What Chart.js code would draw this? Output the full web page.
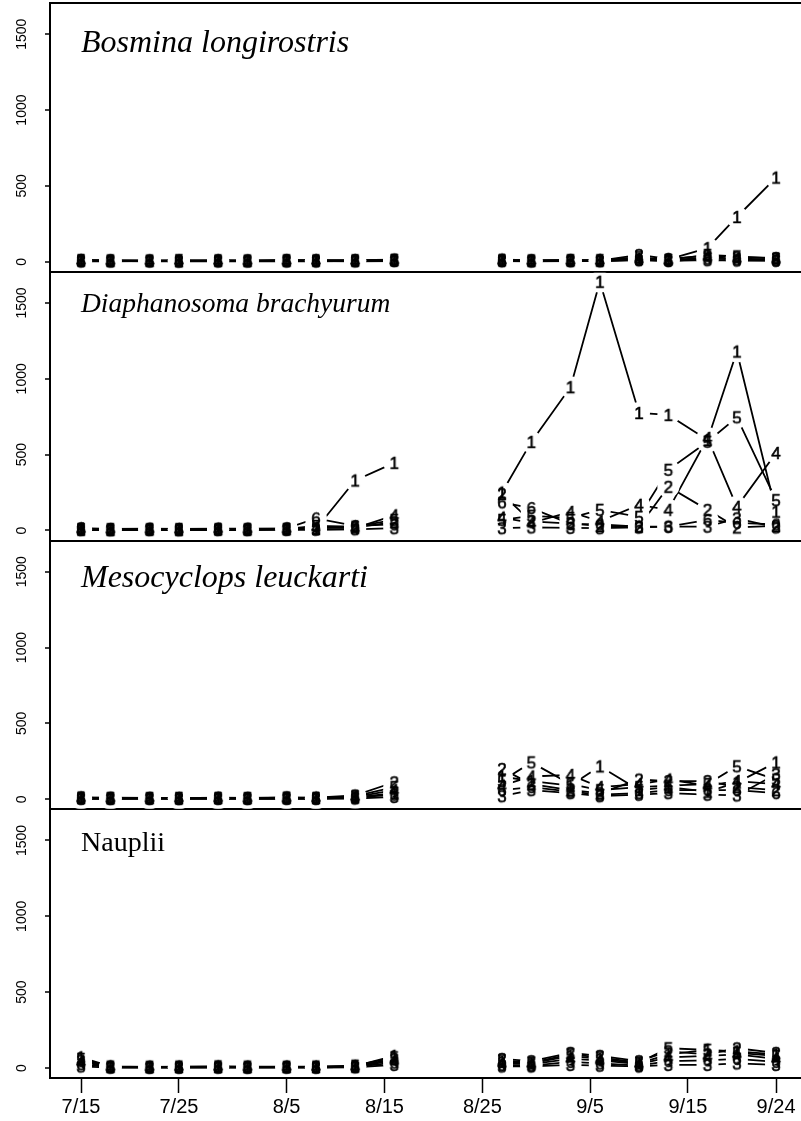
<!DOCTYPE html>
<html>
<head>
<meta charset="utf-8">
<title>Zooplankton abundance</title>
<script src="https://cdn.jsdelivr.net/npm/chart.js@4.4.1/dist/chart.umd.min.js"></script>
<style>
  html, body { margin: 0; padding: 0; background: #fff; }
  #wrap { width: 801px; height: 1121px; position: relative; }
</style>
</head>
<body>
<div id="wrap"><canvas id="chart" width="801" height="1121"></canvas></div>
<script>
// ---- data -------------------------------------------------------------
const sampleDates = ['7/15','7/18','7/22','7/25','7/29','8/1','8/5','8/8','8/12','8/16',
                     '8/27','8/30','9/3','9/6','9/10','9/13','9/17','9/20','9/24'];
const tickDates = ['7/15','7/25','8/5','8/15','8/25','9/5','9/15','9/24'];
const yTickValues = [0, 500, 1000, 1500];
const seriesLabels = ['1','2','3','4','5','6'];
const panelTitles = ['Bosmina longirostris', 'Diaphanosoma brachyurum', 'Mesocyclops leuckarti', 'Nauplii'];

// Bosmina longirostris, series 1-6
const bosmina1 = [8,5,6,4,7,5,6,9,8,10,   10,6,8,12,20,15,90,295,555];
const bosmina2 = [12,10,9,8,10,9,12,10,11,14, 14,10,12,8,45,18,40,30,25];
const bosmina3 = [3,2,4,2,3,2,3,4,3,5,   4,3,5,4,10,6,10,8,6];
const bosmina4 = [6,4,5,6,5,4,5,6,5,8,   7,5,6,6,15,8,30,20,15];
const bosmina5 = [10,8,7,10,8,7,9,8,9,12, 9,8,10,10,30,12,45,35,20];
const bosmina6 = [4,6,3,4,4,6,4,3,6,6,   5,4,4,5,12,5,20,15,10];

// Diaphanosoma brachyurum, series 1-6
const diaph1 = [5,4,6,5,7,6,8,10,330,446,   250,584,945,1640,775,762,597,1180,124];
const diaph2 = [12,8,10,8,10,10,12,15,20,55, 240,60,45,30,25,288,136,20,30];
const diaph3 = [3,2,3,2,3,3,4,5,8,15,       15,20,17,15,20,25,25,80,20];
const diaph4 = [8,6,7,6,8,7,9,20,15,100,    85,50,122,60,169,136,610,156,511];
const diaph5 = [10,9,8,9,9,8,10,30,25,70,   70,97,83,136,90,400,585,746,200];
const diaph6 = [15,10,12,10,12,12,14,80,30,40, 185,148,44,40,25,25,70,50,40];

// Mesocyclops leuckarti, series 1-6
const meso1 = [8,6,7,6,8,7,8,9,12,40,     150,120,90,217,60,80,50,110,243];
const meso2 = [12,10,9,8,10,9,12,10,25,112, 200,100,60,40,130,120,120,80,60];
const meso3 = [3,2,3,2,3,2,3,3,5,15,      20,60,40,20,30,40,30,25,165];
const meso4 = [6,5,6,5,6,5,6,6,15,60,     90,150,160,80,100,130,90,120,100];
const meso5 = [10,8,8,9,8,8,10,8,20,80,   120,243,100,60,80,90,100,217,130];
const meso6 = [5,4,4,4,5,4,5,5,10,30,     60,80,50,30,40,60,60,60,40];

// Nauplii, series 1-6
const naup1 = [70,10,8,8,9,8,9,8,12,80,   40,30,80,60,30,90,120,110,90];
const naup2 = [50,8,6,7,8,6,7,7,10,60,    60,45,100,80,45,110,90,130,100];
const naup3 = [10,3,2,3,3,2,3,3,5,20,     10,10,20,15,10,20,20,30,20];
const naup4 = [40,6,5,5,6,5,6,5,8,50,     30,25,60,50,25,70,80,90,60];
const naup5 = [60,9,8,9,10,9,8,9,15,70,   50,35,90,70,35,130,120,100,80];
const naup6 = [25,5,4,4,5,4,5,4,7,35,     20,15,40,30,15,45,50,60,40];

const panelSeries = [
  [bosmina1, bosmina2, bosmina3, bosmina4, bosmina5, bosmina6],
  [diaph1, diaph2, diaph3, diaph4, diaph5, diaph6],
  [meso1, meso2, meso3, meso4, meso5, meso6],
  [naup1, naup2, naup3, naup4, naup5, naup6]
];

// ---- helpers ----------------------------------------------------------
// days counted from 7/15
function dayOf(md) {
  const [m, d] = md.split('/').map(Number);
  const offset = m === 7 ? 0 : m === 8 ? 31 : 62;
  return offset + d - 15;
}

const Y_MIN = -66, Y_MAX = 1706;
const SANS = '"Liberation Sans", Arial, Helvetica, sans-serif';
const SERIF = '"Liberation Serif", "Times New Roman", serif';

// digit glyphs used as point markers
function makeGlyph(ch) {
  const c = document.createElement('canvas');
  c.width = 12; c.height = 18;
  const g = c.getContext('2d');
  g.fillStyle = '#000';
  g.strokeStyle = '#000';
  g.lineWidth = 0.6;
  g.font = '17px ' + SANS;
  g.textAlign = 'center';
  g.textBaseline = 'middle';
  g.fillText(ch, 6, 10);
  g.strokeText(ch, 6, 10);
  return c;
}
const glyphs = seriesLabels.map(makeGlyph);

// ---- datasets ---------------------------------------------------------
const datasets = [];
panelSeries.forEach((series, p) => {
  series.forEach((vals, k) => {
    const pts = sampleDates.map((d, i) => ({ x: dayOf(d), y: vals[i] }));
    datasets.push({
      label: panelTitles[p] + ' line ' + seriesLabels[k],
      data: pts,
      yAxisID: 'y' + p,
      borderColor: '#000',
      borderWidth: 1.8,
      pointRadius: 0,
      tension: 0,
      spanGaps: 8,
      order: 2,
      kind: 'line'
    });
    datasets.push({
      label: panelTitles[p] + ' ' + seriesLabels[k],
      data: pts,
      yAxisID: 'y' + p,
      showLine: false,
      pointStyle: glyphs[k],
      pointRadius: 6,
      order: 1,
      kind: 'glyph'
    });
  });
});

// ---- scales -----------------------------------------------------------
const scales = {
  x: {
    type: 'linear',
    position: 'bottom',
    min: -3.17,
    max: 73.55,
    z: 1,
    afterBuildTicks: s => { s.ticks = tickDates.map(d => ({ value: dayOf(d) })); },
    afterFit: s => { s.paddingLeft = 0; s.paddingRight = 0; },
    ticks: {
      autoSkip: false,
      maxRotation: 0,
      color: '#000',
      padding: 2,
      font: { family: SANS, size: 20 },
      callback: v => {
        const t = tickDates.find(d => dayOf(d) === v);
        return t || '';
      }
    },
    grid: { drawOnChartArea: false, tickLength: 15, tickWidth: 1.5, tickColor: '#000' },
    border: { display: true, color: '#000', width: 2 }
  }
};
// four stacked panels; the stack is filled bottom-up, so the last panel goes in first
[3, 2, 1, 0].forEach(p => {
  scales['y' + p] = {
    type: 'linear',
    position: 'left',
    stack: 'panels',
    stackWeight: 1,
    min: Y_MIN,
    max: Y_MAX,
    z: 1,
    afterBuildTicks: s => {
      s.ticks = [Y_MIN, ...yTickValues, Y_MAX].map(v => ({ value: v }));
    },
    afterFit: s => { s.width = 50; s.paddingTop = 0; s.paddingBottom = 0; },
    ticks: {
      autoSkip: false,
      color: '#000',
      minRotation: 90,
      maxRotation: 90,
      crossAlign: 'center',
      padding: 7,
      font: { family: SANS, size: 14 },
      callback: v => (yTickValues.includes(v) ? String(v) : '')
    },
    grid: {
      drawOnChartArea: true,
      lineWidth: 2,
      color: ctx => (ctx.tick && ctx.tick.value === Y_MAX ? '#000' : 'rgba(0,0,0,0)'),
      tickLength: 5,
      tickWidth: 1.5,
      tickColor: ctx => (ctx.tick && yTickValues.includes(ctx.tick.value) ? '#000' : 'rgba(0,0,0,0)')
    },
    border: { display: true, color: '#000', width: 2 }
  };
});

// ---- plugins ----------------------------------------------------------
// leaves a blank gap in the lines around every plotted digit
const gapPlugin = {
  id: 'markerGaps',
  beforeDatasetsDraw(chart) { chart.$gapsDone = false; },
  beforeDatasetDraw(chart, args) {
    const ds = chart.data.datasets[args.index];
    if (ds.kind !== 'glyph' || chart.$gapsDone) return;
    chart.$gapsDone = true;
    const ctx = chart.ctx;
    const area = chart.chartArea;
    ctx.save();
    ctx.globalCompositeOperation = 'destination-out';
    chart.data.datasets.forEach((d, i) => {
      if (d.kind !== 'glyph') return;
      const meta = chart.getDatasetMeta(i);
      const ys = chart.scales[d.yAxisID];
      ctx.save();
      ctx.beginPath();
      ctx.rect(area.left + 1, ys.top + 1, area.right - area.left, ys.bottom - ys.top - 2);
      ctx.clip();
      meta.data.forEach(pt => {
        if (!isFinite(pt.x) || !isFinite(pt.y)) return;
        ctx.beginPath();
        ctx.arc(pt.x, pt.y, 11, 0, Math.PI * 2);
        ctx.fill();
      });
      ctx.restore();
    });
    ctx.restore();
  }
};

// species names inside each panel
const titleOffsets = [49, 40, 46, 42];
const titleSizes = [32, 27.5, 32, 28];
const titlePlugin = {
  id: 'panelTitles',
  afterDraw(chart) {
    const ctx = chart.ctx;
    ctx.save();
    ctx.fillStyle = '#000';
    ctx.textAlign = 'left';
    ctx.textBaseline = 'alphabetic';
    panelTitles.forEach((t, p) => {
      const s = chart.scales['y' + p];
      ctx.font = (p < 3 ? 'italic ' : '') + titleSizes[p] + 'px ' + SERIF;
      ctx.fillText(t, 81, s.top + titleOffsets[p]);
    });
    ctx.restore();
  }
};

Chart.defaults.font.family = SANS;
new Chart(document.getElementById('chart'), {
  type: 'line',
  data: { datasets },
  options: {
    responsive: false,
    devicePixelRatio: 1,
    animation: false,
    layout: { autoPadding: false, padding: { top: 3, right: 0, left: 0, bottom: 0 } },
    plugins: { legend: { display: false }, tooltip: { enabled: false }, title: { display: false } },
    scales
  },
  plugins: [gapPlugin, titlePlugin]
});
</script>
</body>
</html>
